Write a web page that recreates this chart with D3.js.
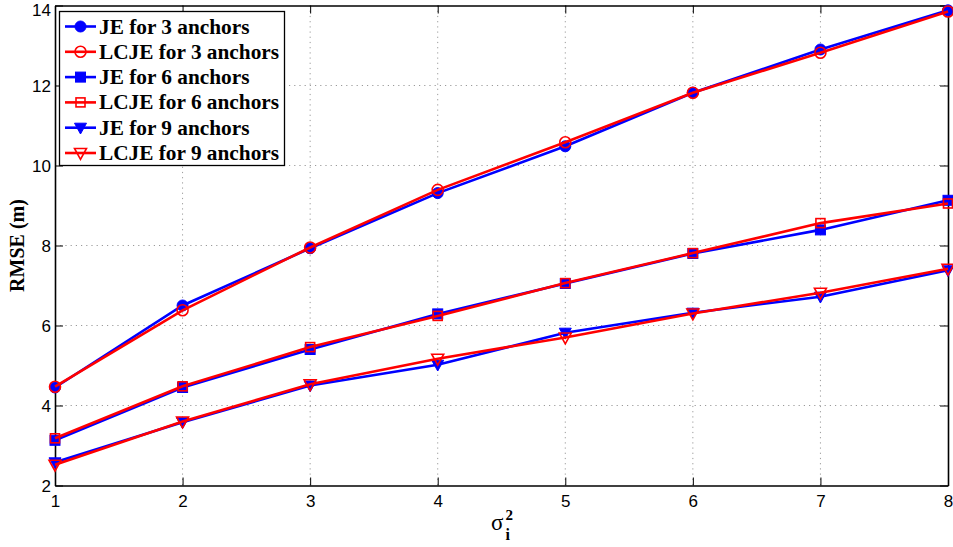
<!DOCTYPE html>
<html>
<head>
<meta charset="utf-8">
<script src="https://cdn.jsdelivr.net/npm/d3@7"></script>
<style>
  html, body { margin: 0; padding: 0; background: #fff; }
  svg { display: block; }
</style>
</head>
<body>
<svg id="chart" width="953" height="547"></svg>
<script>
// Noise variance levels on the x axis
const sigmaLevels = [1, 2, 3, 4, 5, 6, 7, 8];

// RMSE (m) for each estimator and anchor count
const je3   = [4.45, 6.50, 7.93, 9.31, 10.48, 11.82, 12.90, 13.88];
const lcje3 = [4.47, 6.38, 7.95, 9.39, 10.58, 11.82, 12.82, 13.85];
const je6   = [3.13, 4.45, 5.40, 6.29, 7.05, 7.80, 8.39, 9.13];
const lcje6 = [3.18, 4.48, 5.46, 6.24, 7.06, 7.81, 8.56, 9.05];
const je9   = [2.58, 3.58, 4.50, 5.02, 5.82, 6.32, 6.72, 7.38];
const lcje9 = [2.52, 3.60, 4.53, 5.17, 5.70, 6.30, 6.82, 7.42];

const xTicks = [1, 2, 3, 4, 5, 6, 7, 8];
const yTicks = [2, 4, 6, 8, 10, 12, 14];

const seriesNames = ["JE for 3 anchors", "LCJE for 3 anchors", "JE for 6 anchors",
                     "LCJE for 6 anchors", "JE for 9 anchors", "LCJE for 9 anchors"];

const series = [
  { name: seriesNames[0], values: je3,   color: "#0000ff", marker: "circle",   filled: true },
  { name: seriesNames[1], values: lcje3, color: "#ff0000", marker: "circle",   filled: false },
  { name: seriesNames[2], values: je6,   color: "#0000ff", marker: "square",   filled: true },
  { name: seriesNames[3], values: lcje6, color: "#ff0000", marker: "square",   filled: false },
  { name: seriesNames[4], values: je9,   color: "#0000ff", marker: "triangle", filled: true },
  { name: seriesNames[5], values: lcje9, color: "#ff0000", marker: "triangle", filled: false }
];

const svg = d3.select("#chart");
const plotLeft = 55, plotRight = 948, plotTop = 5.5, plotBottom = 485.5;

const x = d3.scaleLinear().domain([1, 8]).range([plotLeft, plotRight]);
const y = d3.scaleLinear().domain([2, 14]).range([plotBottom, plotTop]);

// Dotted grid
const grid = svg.append("g");
grid.selectAll("line.gx").data(xTicks.slice(1, -1)).join("line")
  .attr("x1", d => x(d)).attr("x2", d => x(d))
  .attr("y1", plotTop).attr("y2", plotBottom)
  .attr("stroke", "#9a9a9a").attr("stroke-width", 1).attr("stroke-dasharray", "1.2,4");
grid.selectAll("line.gy").data(yTicks.slice(1, -1)).join("line")
  .attr("y1", d => y(d)).attr("y2", d => y(d))
  .attr("x1", plotLeft).attr("x2", plotRight)
  .attr("stroke", "#9a9a9a").attr("stroke-width", 1).attr("stroke-dasharray", "1.2,4");

// Axes with inward ticks on all four sides
const tickFont = "'Liberation Sans', Arial, sans-serif";
const xAxis = svg.append("g").attr("transform", `translate(0,${plotBottom})`)
  .call(d3.axisBottom(x).tickValues(xTicks).tickFormat(d3.format("d")).tickSizeInner(-8).tickSizeOuter(0).tickPadding(9));
const yAxis = svg.append("g").attr("transform", `translate(${plotLeft},0)`)
  .call(d3.axisLeft(y).tickValues(yTicks).tickFormat(d3.format("d")).tickSizeInner(-8).tickSizeOuter(0).tickPadding(4));
const xAxisTop = svg.append("g").attr("transform", `translate(0,${plotTop})`)
  .call(d3.axisTop(x).tickValues(xTicks).tickFormat("").tickSizeInner(-8).tickSizeOuter(0));
const yAxisRight = svg.append("g").attr("transform", `translate(${plotRight},0)`)
  .call(d3.axisRight(y).tickValues(yTicks).tickFormat("").tickSizeInner(-8).tickSizeOuter(0));

[xAxis, yAxis, xAxisTop, yAxisRight].forEach(g => {
  g.select(".domain").attr("stroke", "#000").attr("stroke-width", 1.6);
  g.selectAll(".tick line").attr("stroke", "#000").attr("stroke-width", 1);
  g.selectAll(".tick text").attr("fill", "#000")
    .style("font-family", tickFont).style("font-size", "17px");
});
// vertically centre the y labels on their ticks; the top one is nudged to stay inside the page
yAxis.selectAll(".tick text").attr("dy", d => d === 14 ? "0.6em" : "0.36em");

// Lines and markers
const lineGen = d3.line().x((d, i) => x(sigmaLevels[i])).y(d => y(d));

function drawMarker(g, type, cx, cy, color, filled) {
  const fill = filled ? color : "none";
  const sw = filled ? 1 : 1.6;
  if (type === "circle") {
    g.append("circle").attr("cx", cx).attr("cy", cy).attr("r", 5.5)
      .attr("fill", fill).attr("stroke", color).attr("stroke-width", sw);
  } else if (type === "square") {
    const s = filled ? 10 : 9;
    g.append("rect").attr("x", cx - s / 2).attr("y", cy - s / 2).attr("width", s).attr("height", s)
      .attr("fill", fill).attr("stroke", color).attr("stroke-width", sw);
  } else {
    const h = 6;
    g.append("path")
      .attr("d", `M${cx - h},${cy - h * 0.75}L${cx + h},${cy - h * 0.75}L${cx},${cy + h * 1.05}Z`)
      .attr("fill", fill).attr("stroke", color).attr("stroke-width", sw).attr("stroke-linejoin", "miter");
  }
}

const plot = svg.append("g");
series.forEach(s => {
  const g = plot.append("g");
  g.append("path").datum(s.values).attr("d", lineGen)
    .attr("fill", "none").attr("stroke", s.color).attr("stroke-width", 2.6);
  s.values.forEach((v, i) => drawMarker(g, s.marker, x(sigmaLevels[i]), y(v), s.color, s.filled));
});

// Legend
const legFont = "'Liberation Serif', 'Times New Roman', serif";
const legend = svg.append("g");
legend.append("rect").attr("x", 59.5).attr("y", 11.5).attr("width", 225).attr("height", 154)
  .attr("fill", "#fff").attr("stroke", "#000").attr("stroke-width", 1.3);
series.forEach((s, i) => {
  const ly = 26.5 + i * 25.3;
  const g = legend.append("g");
  g.append("line").attr("x1", 65).attr("x2", 96).attr("y1", ly).attr("y2", ly)
    .attr("stroke", s.color).attr("stroke-width", 2.6);
  drawMarker(g, s.marker, 80.5, ly, s.color, s.filled);
  g.append("text").attr("x", 99).attr("y", ly + 7)
    .style("font-family", legFont).style("font-weight", "bold").style("font-size", "21.3px")
    .attr("fill", "#000").text(s.name);
});

// Axis titles
svg.append("text")
  .attr("transform", `translate(24,${(plotTop + plotBottom) / 2}) rotate(-90)`)
  .attr("text-anchor", "middle")
  .style("font-family", legFont).style("font-weight", "bold").style("font-size", "20px")
  .text("RMSE (m)");

const xt = svg.append("text").attr("x", 491).attr("y", 530)
  .style("font-family", legFont).style("font-size", "23px").attr("fill", "#000");
xt.append("tspan").text("σ");
xt.append("tspan").attr("x", 505.5).attr("y", 540).style("font-size", "16px").style("font-weight", "bold").text("i");
xt.append("tspan").attr("x", 505.5).attr("y", 519.5).style("font-size", "15px").style("font-weight", "bold").text("2");
</script>
</body>
</html>
